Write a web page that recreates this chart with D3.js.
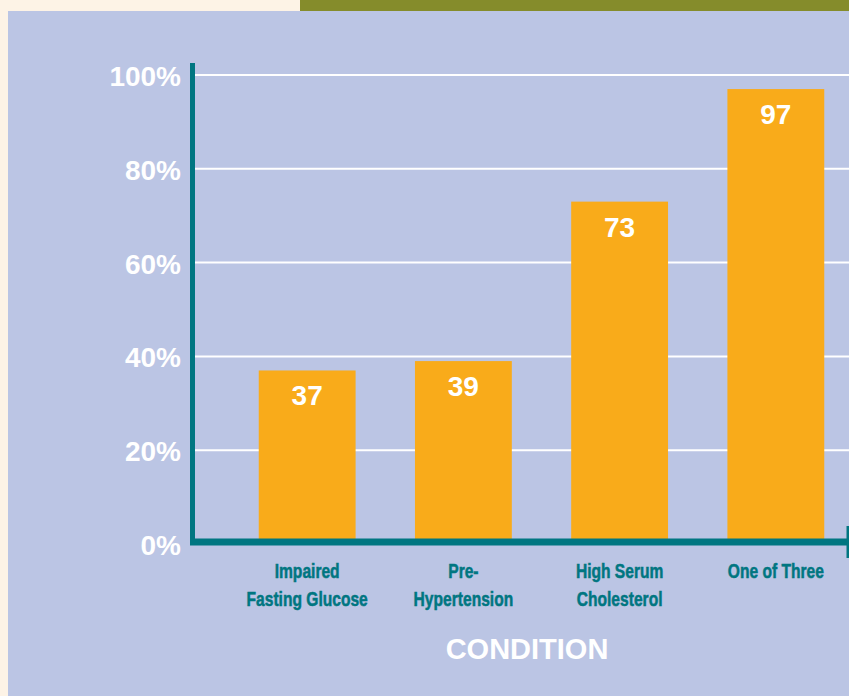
<!DOCTYPE html>
<html lang="en">
<head>
<meta charset="utf-8">
<title>Condition</title>
<script src="https://d3js.org/d3.v7.min.js"></script>
<style>
  html, body { margin: 0; padding: 0; background: #fdf3e6; }
  svg { display: block; }
</style>
</head>
<body>
<div id="chart"></div>
<script>
// data
var categories = ["Impaired|Fasting Glucose", "Pre-|Hypertension", "High Serum|Cholesterol", "One of Three"];
var values = [37, 39, 73, 97];
var yTicks = [0, 20, 40, 60, 80, 100];
var xTitle = "CONDITION";

var w = 849, h = 696;

var svg = d3.select("#chart").append("svg")
    .attr("width", w)
    .attr("height", h);

// page background pieces
svg.append("rect").attr("x", 0).attr("y", 0).attr("width", w).attr("height", h).attr("fill", "#fdf3e6");
svg.append("rect").attr("x", 300).attr("y", 0).attr("width", w - 300).attr("height", 11).attr("fill", "#858c2b");
svg.append("rect").attr("x", 8).attr("y", 11).attr("width", w - 8).attr("height", h - 11).attr("fill", "#bbc5e4");

// scales
var y = d3.scaleLinear().domain([0, 100]).range([544, 75]);
var x = d3.scaleBand()
    .domain(categories)
    .range([190, 893])
    .paddingInner(0.38)
    .paddingOuter(0.44);

// gridlines
svg.append("g").selectAll("line")
    .data(yTicks.filter(function(d) { return d > 0; }))
    .enter().append("line")
    .attr("x1", 195).attr("x2", w)
    .attr("y1", function(d) { return y(d); })
    .attr("y2", function(d) { return y(d); })
    .attr("stroke", "#ffffff")
    .attr("stroke-width", 2);

// y tick labels
svg.append("g").selectAll("text")
    .data(yTicks)
    .enter().append("text")
    .attr("x", 181)
    .attr("y", function(d) { return y(d) + 11; })
    .attr("text-anchor", "end")
    .attr("fill", "#ffffff")
    .style("font-family", "'Liberation Sans', Arial, sans-serif")
    .style("font-weight", "bold")
    .style("font-size", "28px")
    .text(function(d) { return d + "%"; });

// bars
svg.append("g").selectAll("rect")
    .data(values)
    .enter().append("rect")
    .attr("x", function(d, i) { return x(categories[i]); })
    .attr("width", x.bandwidth())
    .attr("y", function(d) { return y(d); })
    .attr("height", function(d) { return 539 - y(d); })
    .attr("fill", "#f9ab1a");

// value labels
svg.append("g").selectAll("text")
    .data(values)
    .enter().append("text")
    .attr("x", function(d, i) { return x(categories[i]) + x.bandwidth() / 2; })
    .attr("y", function(d) { return y(d) + 35; })
    .attr("text-anchor", "middle")
    .attr("fill", "#ffffff")
    .style("font-family", "'Liberation Sans', Arial, sans-serif")
    .style("font-weight", "bold")
    .style("font-size", "28px")
    .text(function(d) { return d; });

// axes
svg.append("line")
    .attr("x1", 192.5).attr("x2", 192.5)
    .attr("y1", 63).attr("y2", 545)
    .attr("stroke", "#007681").attr("stroke-width", 5);
svg.append("line")
    .attr("x1", 190).attr("x2", w)
    .attr("y1", 542).attr("y2", 542)
    .attr("stroke", "#007681").attr("stroke-width", 7);
svg.append("line")
    .attr("x1", 848).attr("x2", 848)
    .attr("y1", 526).attr("y2", 558)
    .attr("stroke", "#007681").attr("stroke-width", 3);

// category labels (condensed look by squeezing Liberation Sans)
var cat = svg.append("g").selectAll("text")
    .data(categories)
    .enter().append("text")
    .attr("transform", function(d) { return "translate(" + (x(d) + x.bandwidth() / 2) + ",578) scale(0.8,1)"; })
    .attr("text-anchor", "middle")
    .attr("fill", "#007681")
    .attr("stroke", "#007681")
    .attr("stroke-width", 0.5)
    .style("font-family", "'Liberation Sans', Arial, sans-serif")
    .style("font-weight", "bold")
    .style("font-size", "19.5px");
cat.each(function(d) {
    var t = d3.select(this);
    d.split("|").forEach(function(l, k) {
        t.append("tspan")
            .attr("x", 0)
            .attr("y", k * 28)
            .text(l);
    });
});

// axis title
svg.append("text")
    .attr("x", 527)
    .attr("y", 659)
    .attr("text-anchor", "middle")
    .attr("fill", "#ffffff")
    .style("font-family", "'Liberation Sans', Arial, sans-serif")
    .style("font-weight", "bold")
    .style("font-size", "29px")
    .text(xTitle);
</script>
</body>
</html>
